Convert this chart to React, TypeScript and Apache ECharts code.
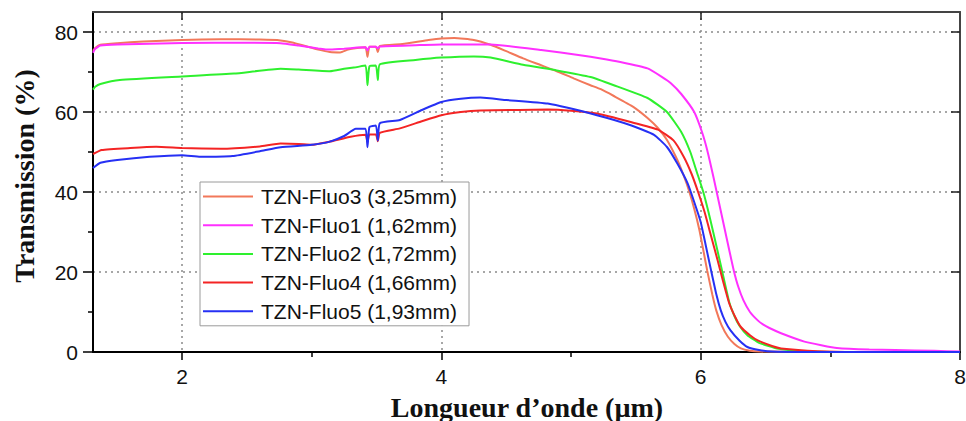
import React, { useEffect, useRef } from "react";
import * as echarts from "echarts";

const SERIES_NAMES = [
  "TZN-Fluo3 (3,25mm)",
  "TZN-Fluo1 (1,62mm)",
  "TZN-Fluo2 (1,72mm)",
  "TZN-Fluo4 (1,66mm)",
  "TZN-Fluo5 (1,93mm)",
];
const SERIES_COLORS = ["#f2785a", "#ff30ff", "#2ef02e", "#f42424", "#2630f4"];

const X_TICKS = [2, 4, 6, 8];
const X_MINOR = [3, 5, 7];
const X_TOP_TICKS = [2, 4, 6];
const Y_TICKS = [0, 20, 40, 60, 80];
const Y_MINOR = [10, 30, 50, 70];
const Y_RIGHT_TICKS = [20, 40, 60, 80];

const FLUO3 = [
  [1.313, 75.3], [1.33, 76.0], [1.37, 76.8], [1.5, 77.2], [1.7, 77.6], [2.0, 78.0],
  [2.3, 78.2], [2.6, 78.1], [2.76, 77.9], [2.85, 77.4], [2.95, 76.5], [3.05, 75.6],
  [3.14, 75.0], [3.22, 74.9], [3.28, 75.6], [3.35, 76.0], [3.415, 76.2], [3.43, 73.8],
  [3.445, 76.3], [3.495, 76.3], [3.51, 75.0], [3.525, 76.5], [3.7, 77.0], [3.9, 78.0],
  [4.0, 78.4], [4.1, 78.5], [4.25, 78.0], [4.38, 76.8], [4.5, 75.2], [4.63, 73.4],
  [4.76, 71.8], [4.89, 70.2], [5.02, 68.4], [5.15, 66.7], [5.23, 65.7], [5.33, 64.0],
  [5.48, 61.3], [5.59, 58.5], [5.67, 56.0], [5.74, 53.0], [5.82, 48.0], [5.87, 44.0],
  [5.91, 40.3], [5.95, 35.8], [5.99, 30.5], [6.02, 25.5], [6.05, 20.4], [6.09, 14.3],
  [6.12, 10.4], [6.16, 6.8], [6.21, 3.8], [6.26, 2.0], [6.31, 0.9], [6.38, 0.3],
  [6.45, 0.1], [7.0, 0], [8.0, 0],
];

const FLUO1 = [
  [1.313, 74.8], [1.33, 75.8], [1.37, 76.6], [1.5, 76.9], [2.0, 77.25], [2.5, 77.3],
  [2.76, 77.2], [2.9, 76.6], [3.05, 75.9], [3.14, 75.6], [3.25, 75.8], [3.35, 76.1],
  [3.415, 76.2], [3.43, 75.4], [3.445, 76.3], [3.495, 76.3], [3.51, 75.9], [3.525, 76.4],
  [3.8, 76.7], [4.0, 76.9], [4.38, 76.9], [4.77, 75.5], [5.07, 74.2], [5.23, 73.4],
  [5.38, 72.5], [5.59, 70.9], [5.7, 68.8], [5.77, 67.2], [5.85, 64.5], [5.95, 60.0],
  [6.01, 55.0], [6.05, 50.5], [6.1, 43.5], [6.14, 37.5], [6.18, 31.5], [6.22, 25.5],
  [6.255, 20.4], [6.29, 16.3], [6.33, 12.9], [6.38, 10.0], [6.44, 7.9], [6.48, 6.9],
  [6.53, 6.0], [6.62, 4.7], [6.8, 2.6], [6.93, 1.7], [7.05, 1.0], [7.3, 0.6],
  [7.5, 0.5], [7.8, 0.3], [8.0, 0.1],
];

const FLUO2 = [
  [1.313, 65.6], [1.33, 66.3], [1.37, 67.0], [1.52, 68.0], [2.0, 68.9], [2.4, 69.6],
  [2.76, 70.8], [2.9, 70.6], [3.14, 70.2], [3.25, 70.8], [3.34, 71.2], [3.415, 71.6],
  [3.43, 66.7], [3.445, 71.4], [3.495, 71.6], [3.51, 68.0], [3.525, 71.9], [3.8, 73.0],
  [4.0, 73.6], [4.25, 73.9], [4.38, 73.6], [4.63, 71.8], [4.89, 70.4], [5.15, 68.75],
  [5.33, 66.7], [5.59, 63.5], [5.74, 60.0], [5.85, 55.0], [5.92, 50.0], [5.97, 45.0],
  [6.02, 40.0], [6.06, 35.0], [6.1, 29.5], [6.16, 21.0], [6.22, 12.5], [6.26, 9.0],
  [6.3, 6.5], [6.36, 4.2], [6.45, 2.3], [6.6, 0.8], [6.8, 0.2], [7.0, 0], [8.0, 0],
];

const FLUO4 = [
  [1.313, 49.5], [1.38, 50.5], [1.6, 51.0], [1.8, 51.3], [2.0, 51.0], [2.3, 50.8],
  [2.6, 51.4], [2.76, 52.1], [2.9, 52.0], [3.0, 51.8], [3.14, 52.6], [3.3, 53.8],
  [3.415, 54.3], [3.43, 52.5], [3.445, 54.4], [3.495, 54.4], [3.51, 52.7], [3.525, 54.8],
  [3.68, 55.9], [3.85, 57.7], [4.0, 59.2], [4.15, 60.0], [4.3, 60.4], [4.6, 60.5],
  [4.82, 60.6], [5.0, 60.3], [5.2, 59.6], [5.46, 57.5], [5.67, 55.6], [5.79, 52.9],
  [5.87, 48.75], [5.93, 44.5], [5.98, 40.0], [6.03, 35.0], [6.08, 29.0], [6.13, 23.0],
  [6.17, 18.0], [6.22, 12.2], [6.27, 8.5], [6.31, 6.25], [6.38, 4.2], [6.44, 2.9],
  [6.55, 1.5], [6.62, 0.9], [6.9, 0.2], [7.2, 0], [8.0, 0],
];

const FLUO5 = [
  [1.313, 46.0], [1.37, 47.3], [1.5, 48.0], [1.75, 48.8], [2.0, 49.2], [2.14, 48.8],
  [2.39, 49.0], [2.6, 50.2], [2.76, 51.2], [3.0, 51.8], [3.14, 52.6], [3.25, 54.0],
  [3.34, 55.8], [3.415, 55.8], [3.43, 51.2], [3.445, 56.2], [3.495, 56.6], [3.51, 52.9],
  [3.525, 57.2], [3.68, 58.0], [3.85, 60.5], [4.0, 62.5], [4.15, 63.3], [4.3, 63.6],
  [4.5, 63.0], [4.82, 62.1], [5.2, 59.2], [5.46, 56.7], [5.64, 54.3], [5.74, 51.25],
  [5.82, 47.1], [5.9, 42.1], [5.95, 37.5], [6.0, 32.5], [6.04, 26.5], [6.08, 20.4],
  [6.12, 14.5], [6.155, 10.4], [6.19, 7.6], [6.23, 5.4], [6.3, 2.8], [6.36, 1.25],
  [6.45, 0.5], [6.55, 0.1], [6.8, 0], [8.0, 0],
];

const SERIES_DATA = [FLUO3, FLUO1, FLUO2, FLUO4, FLUO5];

const X_MIN = 1.313;
const X_MAX = 8;
const Y_MIN = 0;
const Y_MAX = 85;

const SANS = "'Liberation Sans', Arial, sans-serif";
const SERIF = "'Liberation Serif', 'Times New Roman', serif";

export default function App() {
  const ref = useRef<HTMLDivElement>(null);

  useEffect(() => {
    if (!ref.current) return;
    const chart = echarts.init(ref.current, null, { renderer: "svg" });

    const hiddenAxisBase = {
      type: "value" as const,
      min: X_MIN,
      max: X_MAX,
      minInterval: 2,
      maxInterval: 2,
      axisLabel: { show: false },
      splitLine: { show: false },
    };

    chart.setOption({
      animation: false,
      backgroundColor: "#ffffff",
      grid: {
        left: 93,
        right: 6,
        top: 12,
        bottom: 69,
        outerBoundsMode: "none",
        containLabel: false,
      },
      legend: {
        show: true,
        orient: "vertical",
        left: 200,
        top: 182,
        data: SERIES_NAMES.map((name) => ({ name, icon: "rect" })),
        itemWidth: 50,
        itemHeight: 2,
        itemGap: 7.7,
        padding: [4, 12, 4, 3],
        borderColor: "#9a9a9a",
        borderWidth: 1,
        backgroundColor: "#ffffff",
        textStyle: {
          fontSize: 21,
          fontFamily: SANS,
          color: "#111111",
          lineHeight: 20,
          padding: [0, 0, 0, 3],
        },
      },
      xAxis: [
        {
          type: "value",
          position: "bottom",
          min: X_MIN,
          max: X_MAX,
          minInterval: 2,
          maxInterval: 2,
          axisLine: { show: true, onZero: false, lineStyle: { color: "#000", width: 2 } },
          axisTick: {
            show: true,
            inside: false,
            length: 8,
            customValues: X_TICKS,
            lineStyle: { color: "#000", width: 1.5 },
          },
          axisLabel: {
            show: true,
            customValues: X_TICKS,
            margin: 14,
            fontSize: 21,
            fontFamily: SANS,
            color: "#111111",
          },
          splitLine: {
            show: true,
            lineStyle: { type: [2, 4], color: "#8a8a8a", width: 1.5 },
          },
        },
        {
          ...hiddenAxisBase,
          position: "bottom",
          axisLine: { show: false, onZero: false },
          axisTick: {
            show: true,
            inside: false,
            length: 5,
            customValues: X_MINOR,
            lineStyle: { color: "#000", width: 1.5 },
          },
        },
        {
          ...hiddenAxisBase,
          position: "top",
          axisLine: { show: true, onZero: false, lineStyle: { color: "#444", width: 2 } },
          axisTick: {
            show: true,
            inside: true,
            length: 8,
            customValues: X_TOP_TICKS,
            lineStyle: { color: "#222", width: 1.5 },
          },
        },
      ],
      yAxis: [
        {
          type: "value",
          position: "left",
          min: Y_MIN,
          max: Y_MAX,
          interval: 20,
          axisLine: { show: true, onZero: false, lineStyle: { color: "#000", width: 2 } },
          axisTick: {
            show: true,
            inside: false,
            length: 10,
            customValues: Y_TICKS,
            lineStyle: { color: "#000", width: 1.5 },
          },
          axisLabel: {
            show: true,
            customValues: Y_TICKS,
            margin: 15,
            fontSize: 21,
            fontFamily: SANS,
            color: "#111111",
          },
          splitLine: {
            show: true,
            lineStyle: { type: [2, 4], color: "#8a8a8a", width: 1.5 },
          },
        },
        {
          type: "value",
          position: "left",
          min: Y_MIN,
          max: Y_MAX,
          interval: 20,
          axisLine: { show: false, onZero: false },
          axisTick: {
            show: true,
            inside: false,
            length: 5,
            customValues: Y_MINOR,
            lineStyle: { color: "#000", width: 1.5 },
          },
          axisLabel: { show: false },
          splitLine: { show: false },
        },
        {
          type: "value",
          position: "right",
          min: Y_MIN,
          max: Y_MAX,
          interval: 20,
          axisLine: { show: true, onZero: false, lineStyle: { color: "#444", width: 2 } },
          axisTick: {
            show: true,
            inside: true,
            length: 9,
            customValues: Y_RIGHT_TICKS,
            lineStyle: { color: "#222", width: 1.5 },
          },
          axisLabel: { show: false },
          splitLine: { show: false },
        },
      ],
      series: SERIES_NAMES.map((name, i) => ({
        name,
        type: "line",
        xAxisIndex: 0,
        yAxisIndex: 0,
        data: SERIES_DATA[i],
        symbol: "none",
        showSymbol: false,
        smooth: 0.15,
        color: SERIES_COLORS[i],
        itemStyle: { color: SERIES_COLORS[i] },
        lineStyle: { color: SERIES_COLORS[i], width: 2 },
        emphasis: { disabled: true },
        silent: true,
      })),
      graphic: [
        {
          type: "text",
          x: 24,
          y: 176,
          rotation: Math.PI / 2,
          style: {
            text: "Transmission (%)",
            font: `bold 28px ${SERIF}`,
            fill: "#111111",
            textAlign: "center",
            textVerticalAlign: "middle",
          },
        },
        {
          type: "text",
          x: 527,
          y: 407,
          style: {
            text: "Longueur d\u2019onde (\u00b5m)",
            font: `bold 28px ${SERIF}`,
            fill: "#111111",
            textAlign: "center",
            textVerticalAlign: "middle",
          },
        },
      ],
    });

    return () => {
      chart.dispose();
    };
  }, []);

  return (
    <div
      ref={ref}
      style={{ position: "fixed", left: 0, top: 0, width: 966, height: 421 }}
    />
  );
}
